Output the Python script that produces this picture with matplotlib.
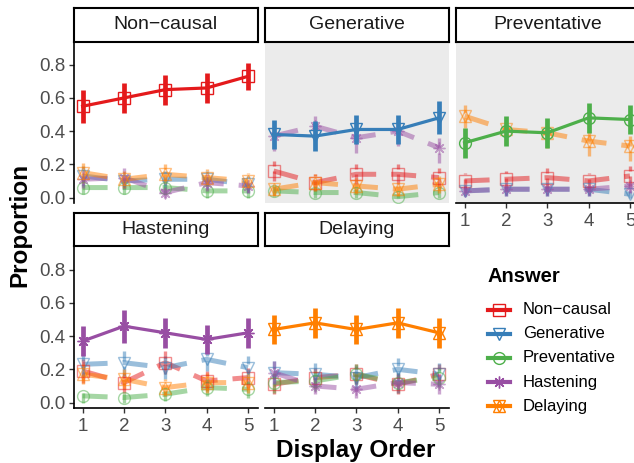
import matplotlib
matplotlib.use('Agg')
import matplotlib.pyplot as plt
from matplotlib.lines import Line2D

plt.rcParams['font.family'] = ['Liberation Sans', 'DejaVu Sans']

orders = [1, 2, 3, 4, 5]
answers = ['Non\u2212causal', 'Generative', 'Preventative', 'Hastening', 'Delaying']
colors = ['#E41A1C', '#377EB8', '#4DAF4A', '#984EA3', '#FF7F00']
markers = [['s'], ['v'], ['o'], [(8, 2, 0)], ['^', 'v']]

# mean proportions per panel, rows follow `answers`
p_noncausal = [[0.55, 0.60, 0.65, 0.66, 0.73],
               [0.13, 0.10, 0.11, 0.11, 0.08],
               [0.06, 0.06, 0.06, 0.04, 0.04],
               [0.11, 0.12, 0.03, 0.09, 0.07],
               [0.15, 0.11, 0.14, 0.12, 0.10]]
e_noncausal = [[0.10, 0.09, 0.09, 0.09, 0.08],
               [0.06, 0.05, 0.05, 0.05, 0.05],
               [0.04, 0.04, 0.04, 0.04, 0.04],
               [0.05, 0.06, 0.03, 0.05, 0.04],
               [0.06, 0.05, 0.06, 0.05, 0.05]]

p_generative = [[0.16, 0.09, 0.14, 0.14, 0.12],
                [0.38, 0.37, 0.41, 0.41, 0.48],
                [0.04, 0.03, 0.03, 0.005, 0.03],
                [0.37, 0.43, 0.36, 0.40, 0.30],
                [0.05, 0.09, 0.07, 0.05, 0.08]]
e_generative = [[0.06, 0.05, 0.06, 0.06, 0.06],
                [0.09, 0.09, 0.09, 0.09, 0.10],
                [0.03, 0.03, 0.03, 0.01, 0.03],
                [0.09, 0.09, 0.09, 0.09, 0.09],
                [0.04, 0.05, 0.05, 0.04, 0.05]]

p_preventative = [[0.10, 0.11, 0.12, 0.10, 0.13],
                  [0.04, 0.05, 0.05, 0.05, 0.02],
                  [0.33, 0.40, 0.39, 0.48, 0.47],
                  [0.04, 0.05, 0.05, 0.05, 0.07],
                  [0.49, 0.41, 0.39, 0.34, 0.31]]
e_preventative = [[0.05, 0.05, 0.06, 0.05, 0.06],
                  [0.03, 0.04, 0.04, 0.04, 0.02],
                  [0.09, 0.09, 0.09, 0.09, 0.09],
                  [0.03, 0.04, 0.04, 0.04, 0.04],
                  [0.07, 0.09, 0.09, 0.09, 0.09]]

p_hastening = [[0.19, 0.12, 0.24, 0.13, 0.15],
               [0.23, 0.24, 0.21, 0.26, 0.21],
               [0.04, 0.03, 0.05, 0.09, 0.08],
               [0.37, 0.46, 0.42, 0.38, 0.42],
               [0.17, 0.14, 0.09, 0.12, 0.12]]
e_hastening = [[0.07, 0.06, 0.07, 0.06, 0.06],
               [0.07, 0.08, 0.07, 0.07, 0.07],
               [0.04, 0.03, 0.04, 0.05, 0.05],
               [0.09, 0.10, 0.09, 0.09, 0.09],
               [0.06, 0.06, 0.05, 0.06, 0.06]]

p_delaying = [[0.11, 0.15, 0.17, 0.11, 0.17],
              [0.18, 0.17, 0.15, 0.20, 0.17],
              [0.12, 0.13, 0.17, 0.12, 0.15],
              [0.18, 0.10, 0.08, 0.12, 0.11],
              [0.44, 0.48, 0.44, 0.48, 0.42]]
e_delaying = [[0.06, 0.06, 0.06, 0.06, 0.06],
              [0.07, 0.07, 0.07, 0.07, 0.07],
              [0.06, 0.06, 0.06, 0.06, 0.06],
              [0.07, 0.05, 0.05, 0.06, 0.06],
              [0.09, 0.09, 0.09, 0.09, 0.09]]

panels = [p_noncausal, p_generative, p_preventative, p_hastening, p_delaying]
errors = [e_noncausal, e_generative, e_preventative, e_hastening, e_delaying]

W, H = 634, 463
fig = plt.figure(figsize=(W / 100, H / 100), dpi=100)


def box(l, t, r, b):
    return [l / W, 1 - b / H, (r - l) / W, (b - t) / H]


cols = [(73.5, 257.5), (264.5, 448.5), (455.5, 639.5)]
rows = [(41.5, 202.5), (246.5, 407.5)]
strips = [(8, 41.5), (213, 246.5)]
grid = [(0, 0), (0, 1), (0, 2), (1, 0), (1, 1)]
grey = [False, True, True, False, False]
show_y = [True, False, False, True, False]
show_x = [False, False, True, True, True]


def draw_series(ax, y, e, k, main):
    c = colors[k]
    lo = [a - b for a, b in zip(y, e)]
    hi = [a + b for a, b in zip(y, e)]
    if main:
        ax.plot(orders, y, color=c, lw=2.3, zorder=10)
        ax.vlines(orders, lo, hi, color=c, lw=3.4, zorder=10)
        for m in markers[k]:
            ax.plot(orders, y, ls='none', marker=m, ms=8.5, mfc='none',
                    mec=c, mew=1.0, zorder=11)
    else:
        ax.plot(orders, y, color=c, lw=3.6, alpha=0.5, ls=(0, (5, 3)),
                zorder=3, solid_capstyle='butt')
        ax.vlines(orders, lo, hi, color=c, lw=2.4, alpha=0.5,
                  linestyles=(0, (3, 1.5)), zorder=4)
        for m in markers[k]:
            ax.plot(orders, y, ls='none', marker=m, ms=8.5, mfc='none',
                    mec=c, mew=1.0, alpha=0.5, zorder=5)


for i, (r, cidx) in enumerate(grid):
    l, rr = cols[cidx]
    t, b = rows[r]
    ax = fig.add_axes(box(l, t, rr, b))
    ax.set_facecolor('#EBEBEB' if grey[i] else 'white')
    ax.set_xlim(0.78, 5.23)
    ax.set_ylim(-0.03, 0.94)
    for s in ax.spines.values():
        s.set_visible(False)
    ax.spines['left'].set_visible(show_y[i])
    ax.spines['bottom'].set_visible(show_x[i])
    for s in ('left', 'bottom'):
        ax.spines[s].set_linewidth(1.2)
        ax.spines[s].set_color('black')
    ax.set_yticks([0.0, 0.2, 0.4, 0.6, 0.8])
    ax.set_xticks(orders)
    ax.tick_params(axis='y', left=show_y[i], labelleft=show_y[i],
                   length=3.5, width=1.0, color='#333333',
                   labelsize=13.5, labelcolor='#4D4D4D', pad=2.5)
    ax.tick_params(axis='x', bottom=show_x[i], labelbottom=show_x[i],
                   length=3.5, width=1.0, color='#333333',
                   labelsize=13.5, labelcolor='#4D4D4D', pad=4)
    if show_y[i]:
        ax.set_yticklabels(['0.0', '0.2', '0.4', '0.6', '0.8'])
    data = panels[i]
    err = errors[i]
    for k in range(5):
        if k != i:
            draw_series(ax, data[k], err[k], k, False)
    draw_series(ax, data[i], err[i], i, True)

    st, sb = strips[r]
    sax = fig.add_axes(box(l, st, rr, sb))
    sax.set_xticks([])
    sax.set_yticks([])
    sax.set_facecolor('white')
    for s in sax.spines.values():
        s.set_linewidth(1.5)
        s.set_color('black')
    sax.text(0.5, 0.5, answers[i], ha='center', va='center', fontsize=14,
             color='#1A1A1A', transform=sax.transAxes)

fig.text(20 / W, 1 - 225 / H, 'Proportion', rotation=90, ha='center',
         va='center', fontsize=17.5, fontweight='bold')
fig.text(356 / W, 1 - 451 / H, 'Display Order', ha='center', va='center',
         fontsize=17.5, fontweight='bold')

# legend, drawn in pixel coordinates
lax = fig.add_axes([0, 0, 1, 1])
lax.set_xlim(0, W)
lax.set_ylim(H, 0)
lax.axis('off')
lax.text(487, 277, 'Answer', ha='left', va='center', fontsize=14.5,
         fontweight='bold')
leg_y = [310, 334, 358, 382, 406]
for k in range(5):
    yy = leg_y[k]
    lax.add_line(Line2D([488, 510], [yy, yy], color=colors[k], lw=3))
    for m in markers[k]:
        lax.plot([499], [yy], ls='none', marker=m, ms=8.5, mfc='none',
                 mec=colors[k], mew=1.0)
    lax.text(523, yy, answers[k], ha='left', va='center', fontsize=12)

fig.savefig('out.png', dpi=100)
